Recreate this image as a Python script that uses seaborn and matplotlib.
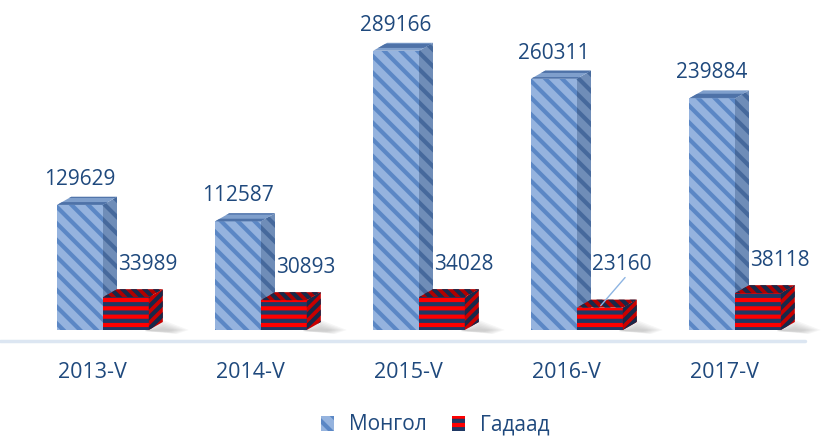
import numpy as np
import pandas as pd
import seaborn as sns
import matplotlib.pyplot as plt
from matplotlib.patches import Polygon, Patch
from matplotlib.lines import Line2D
from matplotlib.transforms import ScaledTranslation

years = ['2013-V', '2014-V', '2015-V', '2016-V', '2017-V']
mongol = [129629, 112587, 289166, 260311, 239884]
gadaad = [33989, 30893, 34028, 23160, 38118]
series = ['Монгол', 'Гадаад']

df = pd.DataFrame({
    'year': years * 2,
    'series': [series[0]] * 5 + [series[1]] * 5,
    'value': mongol + gadaad,
})

sns.set_theme(style='white')
plt.rcParams['font.family'] = ['Open Sans', 'DejaVu Sans']
plt.rcParams['hatch.linewidth'] = 3.0

txt = '#1F497D'
blue, blue_h = '#95B3DE', '#5B87C5'
red, navy = '#FF0000', '#1F3864'

fig = plt.figure(figsize=(8.3, 4.38), dpi=100)
ax = fig.add_axes([24 / 830, 108 / 438, 790 / 830, 309 / 438])

sns.barplot(data=df, x='year', y='value', hue='series', ax=ax,
            palette=[blue, red], width=0.58, legend=False, saturation=1)

ax.set_xlim(-0.5, 4.5)
ax.set_ylim(0, 320000)
sns.despine(ax=ax, left=True, bottom=True)
ax.set_yticks([])
ax.set_ylabel('')
ax.set_xlabel('')
ax.set_xticks(range(5))
ax.set_xticklabels(years, fontsize=15.5, color=txt)
ax.tick_params(axis='x', length=0, pad=23)
for lab in ax.get_xticklabels():
    lab.set_transform(lab.get_transform() + ScaledTranslation(-0.11, 0, fig.dpi_scale_trans))

# 3d depth in data units
px_x = 1 / 158
px_y = 320000 / 309
dx = 14 * px_x
dy = 8 * px_y

styles = [
    dict(front=(blue, blue_h, '\\\\'), side=('#6F8DB8', '#46699C', '\\\\'), top=('#7F9FCC', '#4E72A8', '--')),
    dict(front=(red, navy, '--'), side=('#C80000', '#17294A', '///'), top=('#B00000', '#17294A', '\\\\\\')),
]

for k, cont in enumerate(ax.containers):
    st = styles[k]
    z = 2 + k
    for i, bar in enumerate(cont):
        x0 = bar.get_x()
        x1 = x0 + bar.get_width()
        h = bar.get_height()
        fc, hc, hp = st['front']
        bar.set_facecolor(fc)
        bar.set_edgecolor(hc)
        bar.set_hatch(hp)
        bar.set_linewidth(0)
        bar.set_zorder(z)
        fc, hc, hp = st['side']
        ax.add_patch(Polygon([(x1, 0), (x1 + dx, dy), (x1 + dx, h + dy), (x1, h)],
                             facecolor=fc, edgecolor=hc, hatch=hp, lw=0, zorder=z))
        fc, hc, hp = st['top']
        ax.add_patch(Polygon([(x0, h), (x1, h), (x1 + dx, h + dy), (x0 + dx, h + dy)],
                             facecolor=fc, edgecolor=hc, hatch=hp, lw=0, zorder=z))
        if k == 1:
            # soft floor shadow, stacked layers to fake a blur
            for s in range(6):
                g = 1 - s / 6
                ax.add_patch(Polygon([(x1 - 4 * px_x, -1 * px_y),
                                      (x1 + dx, (10 * g) * px_y),
                                      (x1 + dx + (8 + 18 * g) * px_x, 0),
                                      (x1 + dx + (4 + 10 * g) * px_x, -(1 + 3 * g) * px_y)],
                                     facecolor='#808080', alpha=0.07, lw=0, zorder=1, clip_on=False))
            label_x = (x0 + x1) / 2 + 22 * px_x
            ly = h + 22 * px_y
            if i == 3:
                ly = h + 33 * px_y
                ax.plot([x0 + 0.15, label_x + 0.02], [h + 2000, ly - 3000], color='#8DB4E2', lw=1, zorder=5)
        else:
            label_x = (x0 + x1) / 2
            ly = h + 15 * px_y
        ax.text(label_x, ly, f'{int(h)}', ha='center', va='bottom', fontsize=15,
                color=txt, clip_on=False, zorder=6)

# floor line
fig.add_artist(Line2D([0, 805 / 830], [1 - 341 / 438] * 2, color='#DCE6F2', lw=2.5))

handles = [Patch(facecolor=blue, edgecolor=blue_h, hatch='\\\\', lw=0),
           Patch(facecolor=red, edgecolor=navy, hatch='--', lw=0)]
fig.legend(handles, series, loc='center', bbox_to_anchor=(435 / 830, 1 - 425 / 438),
           ncol=2, frameon=False, fontsize=15, labelcolor=txt, handlelength=0.65,
           handleheight=0.75, columnspacing=1.2, handletextpad=0.7)

fig.savefig('out.png', dpi=100)
